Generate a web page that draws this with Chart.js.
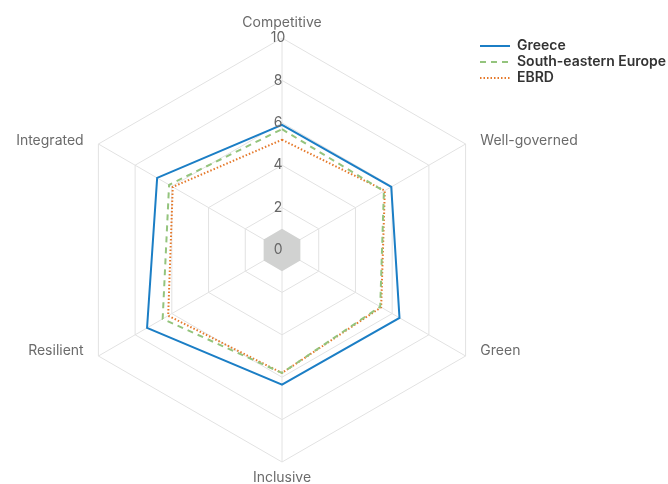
<!DOCTYPE html>
<html>
<head>
<meta charset="utf-8">
<script src="https://cdn.jsdelivr.net/npm/chart.js@4.4.1/dist/chart.umd.min.js"></script>
<style>
  html, body { margin: 0; padding: 0; background: #fff; }
</style>
</head>
<body>
<canvas id="radarChart" width="668" height="484"></canvas>
<script>
// Chart values
const categories = ['Competitive', 'Well-governed', 'Green', 'Inclusive', 'Resilient', 'Integrated'];
const greece = [5.9, 5.95, 6.4, 6.35, 7.35, 6.8];
const southEasternEurope = [5.7, 5.55, 5.35, 5.8, 6.5, 6.15];
const ebrd = [5.2, 5.6, 5.4, 5.8, 6.2, 5.95];
const core = [1, 1, 1, 1, 1, 1]; // grey hexagon in the middle
const tickMin = 0;
const tickMax = 10;
const tickStep = 2;

const labelFont = { family: 'Inter', size: 14 };

new Chart(document.getElementById('radarChart'), {
    type: 'radar',
    data: {
        labels: categories,
        datasets: [
            {
                label: 'Greece',
                data: greece,
                borderColor: '#1b7ec5',
                borderWidth: 2,
                fill: false,
                pointRadius: 0,
                clip: false
            },
            {
                label: 'South-eastern Europe',
                data: southEasternEurope,
                borderColor: '#94c47d',
                borderWidth: 2,
                borderDash: [6, 5],
                fill: false,
                pointRadius: 0,
                clip: false
            },
            {
                label: 'EBRD',
                data: ebrd,
                borderColor: '#e5792b',
                borderWidth: 2,
                borderDash: [1.5, 2],
                fill: false,
                pointRadius: 0,
                clip: false
            },
            {
                label: 'core',
                data: core,
                backgroundColor: '#d1d2d1',
                borderWidth: 0,
                fill: true,
                pointRadius: 0,
                clip: false
            }
        ]
    },
    options: {
        responsive: false,
        animation: false,
        devicePixelRatio: 1,
        layout: { padding: { top: 37 } },
        plugins: {
            tooltip: { enabled: false },
            legend: {
                position: 'right',
                align: 'start',
                maxWidth: 190,
                labels: {
                    usePointStyle: true,
                    pointStyle: 'line',
                    pointStyleWidth: 30,
                    padding: 2,
                    color: '#333',
                    font: { family: 'Inter', size: 14, weight: 600 },
                    // point style items lose the dash, take it back from the dataset
                    generateLabels: chart => Chart.defaults.plugins.legend.labels.generateLabels(chart).map(item => {
                        const ds = chart.data.datasets[item.datasetIndex];
                        item.lineDash = ds.borderDash || [];
                        item.lineWidth = ds.borderWidth;
                        item.strokeStyle = ds.borderColor;
                        return item;
                    }),
                    filter: item => item.text !== 'core'
                }
            }
        },
        scales: {
            r: {
                min: tickMin,
                max: tickMax,
                ticks: {
                    stepSize: tickStep,
                    z: 1,
                    color: '#666',
                    font: labelFont,
                    showLabelBackdrop: false,
                    backdropPadding: 0,
                    callback: v => v + '  '
                },
                grid: { color: '#e2e2e2', lineWidth: 1 },
                angleLines: { color: '#e2e2e2', lineWidth: 1 },
                pointLabels: {
                    color: '#6b6b6b',
                    font: labelFont,
                    padding: ctx => (ctx.index === 0 || ctx.index === 3) ? 0 : 10
                },
                // the 0 label is skipped by chart.js, so put a spare tick in front
                afterBuildTicks: scale => {
                    scale.ticks = [{ value: tickMin }].concat(scale.ticks);
                },
                // place the radar where the original sits, legend overlaps the empty corner
                afterSetDimensions: scale => {
                    scale.left = -200;
                    scale.right = 900;
                    scale.top = -200;
                    scale.bottom = 700;
                    scale.xCenter = 282;
                    scale.yCenter = 250;
                    scale.drawingArea = 212;
                },
                // side labels sit level with the end of their axis
                afterFit: scale => {
                    scale._pointLabelItems.forEach((item, i) => {
                        if (item.textAlign === 'center') return;
                        const end = scale.getPointPosition(i, scale.drawingArea);
                        const h = item.bottom - item.top;
                        const lift = end.y < scale.yCenter ? 3 : 5;
                        item.y = end.y - lift - h / 2;
                    });
                }
            }
        }
    }
});
</script>
</body>
</html>
